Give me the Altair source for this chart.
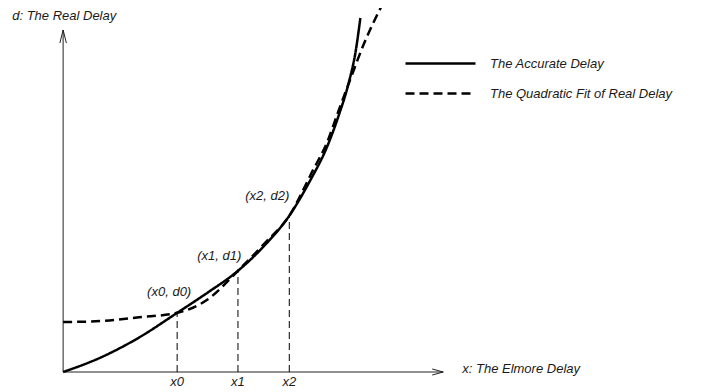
import altair as alt
import pandas as pd

# ---- data (x: Elmore delay units, y: real delay units) ----
series_names = ["The Accurate Delay", "The Quadratic Fit of Real Delay"]
accurate_x = [0, 10, 20, 30, 38, 46, 53, 59.5, 65, 69.5, 72.5, 75, 77, 78.2]
accurate_y = [0, 4.3, 10.1, 17.3, 23.2, 29.6, 37, 45.7, 56, 66, 75, 84, 94, 103.5]
quad_x = [0, 10, 20, 30, 38, 46, 53, 59.5, 65.5, 69.5, 72.5, 75.5, 79, 84]
quad_y = [14.6, 14.9, 16.0, 17.3, 21.2, 29.6, 37.6, 45.7, 58.5, 67.3, 76.5, 85.4, 95.6, 107.5]

marker_names = ["x0", "x1", "x2"]
marker_x = [30, 46, 59.5]
marker_d = [17.3, 29.6, 45.7]
point_labels = ["(x0, d0)", "(x1, d1)", "(x2, d2)"]
point_label_x = [22.1, 35.3, 47.9]
point_label_y = [22.2, 32.75, 50.3]
tick_label_y = -4.1

axis_x_end = 100
axis_y_end = 100
axis_titles = ["d: The Real Delay", "x: The Elmore Delay"]
axis_title_x = [-13.4, 105]
axis_title_y = [102.8, -0.3]

FONT = "Liberation Sans"
TXT = "#1a1a1a"

rows = []
for i, (x, y) in enumerate(zip(accurate_x, accurate_y)):
    rows.append({"series": series_names[0], "x": x, "y": y, "i": i})
for i, (x, y) in enumerate(zip(quad_x, quad_y)):
    rows.append({"series": series_names[1], "x": x, "y": y, "i": i})
curves = pd.DataFrame(rows)

markers = pd.DataFrame({"name": marker_names, "x": marker_x, "d": marker_d,
                        "zero": [0, 0, 0], "ty": [tick_label_y] * 3,
                        "lab": point_labels, "lx": point_label_x, "ly": point_label_y})
titles = pd.DataFrame({"t": axis_titles, "x": axis_title_x, "y": axis_title_y})
axes_df = pd.DataFrame({"x": [0, 0], "x2": [0, axis_x_end], "y": [0, 0], "y2": [axis_y_end, 0]})
arrow_y = pd.DataFrame({"x": [0], "y": [axis_y_end]})
arrow_x = pd.DataFrame({"x": [axis_x_end], "y": [0]})

xs = alt.Scale(domain=[-14.5, 166.5], nice=False, zero=False)
ys = alt.Scale(domain=[-5.26, 106.43], nice=False, zero=False)

def X(f):
    return alt.X(f, type="quantitative", scale=xs, axis=None)

def Y(f):
    return alt.Y(f, type="quantitative", scale=ys, axis=None)

axis_lines = alt.Chart(axes_df).mark_rule(color="#222", strokeWidth=1).encode(
    x=X("x"), x2="x2", y=Y("y"), y2="y2")

arrow_up = alt.Chart(arrow_y).mark_point(
    shape="M -0.5 2 L 0 0 L 0.5 2", filled=False, size=169, color="#222",
    strokeWidth=1, opacity=1).encode(x=X("x"), y=Y("y"))
arrow_right = alt.Chart(arrow_x).mark_point(
    shape="M -2 -0.55 L 0 0 L -2 0.55", filled=False, size=121, color="#222",
    strokeWidth=1, opacity=1).encode(x=X("x"), y=Y("y"))

droplines = alt.Chart(markers).mark_rule(color="black", strokeWidth=1, strokeDash=[7, 4]).encode(
    x=X("x"), y=Y("zero"), y2="d")

lines = alt.Chart(curves).mark_line(color="black", strokeWidth=2.5, interpolate="monotone").encode(
    x=X("x"), y=Y("y"), order="i:Q",
    strokeDash=alt.StrokeDash(
        "series:N",
        scale=alt.Scale(domain=series_names, range=[[1, 0], [9, 5]]),
        legend=alt.Legend(title=None, orient="none", legendX=396, legendY=40.5,
                          symbolType="stroke", symbolSize=4900, symbolStrokeWidth=2.5,
                          symbolStrokeColor="black", labelFont=FONT, labelFontSize=13,
                          labelFontStyle="italic", labelColor=TXT, labelOffset=13,
                          clipHeight=30, rowPadding=0, padding=0, labelLimit=400)))

tick_text = alt.Chart(markers).mark_text(
    align="center", baseline="alphabetic", font=FONT, fontSize=13, fontStyle="italic", color=TXT
).encode(x=X("x"), y=Y("ty"), text="name:N")

point_text = alt.Chart(markers).mark_text(
    align="left", baseline="alphabetic", font=FONT, fontSize=13, fontStyle="italic", color=TXT
).encode(x=X("lx"), y=Y("ly"), text="lab:N")

title_text = alt.Chart(titles).mark_text(
    align="left", baseline="alphabetic", font=FONT, fontSize=13, fontStyle="italic", color=TXT
).encode(x=X("x"), y=Y("y"), text="t:N")

chart = alt.layer(
    axis_lines, arrow_up, arrow_right, droplines, lines, tick_text, point_text, title_text
).properties(
    width=688, height=382, padding=0, autosize=alt.AutoSizeParams(type="none")
).configure_view(stroke=None)

chart.save("out.html", embed_options={"renderer": "svg", "actions": False})
